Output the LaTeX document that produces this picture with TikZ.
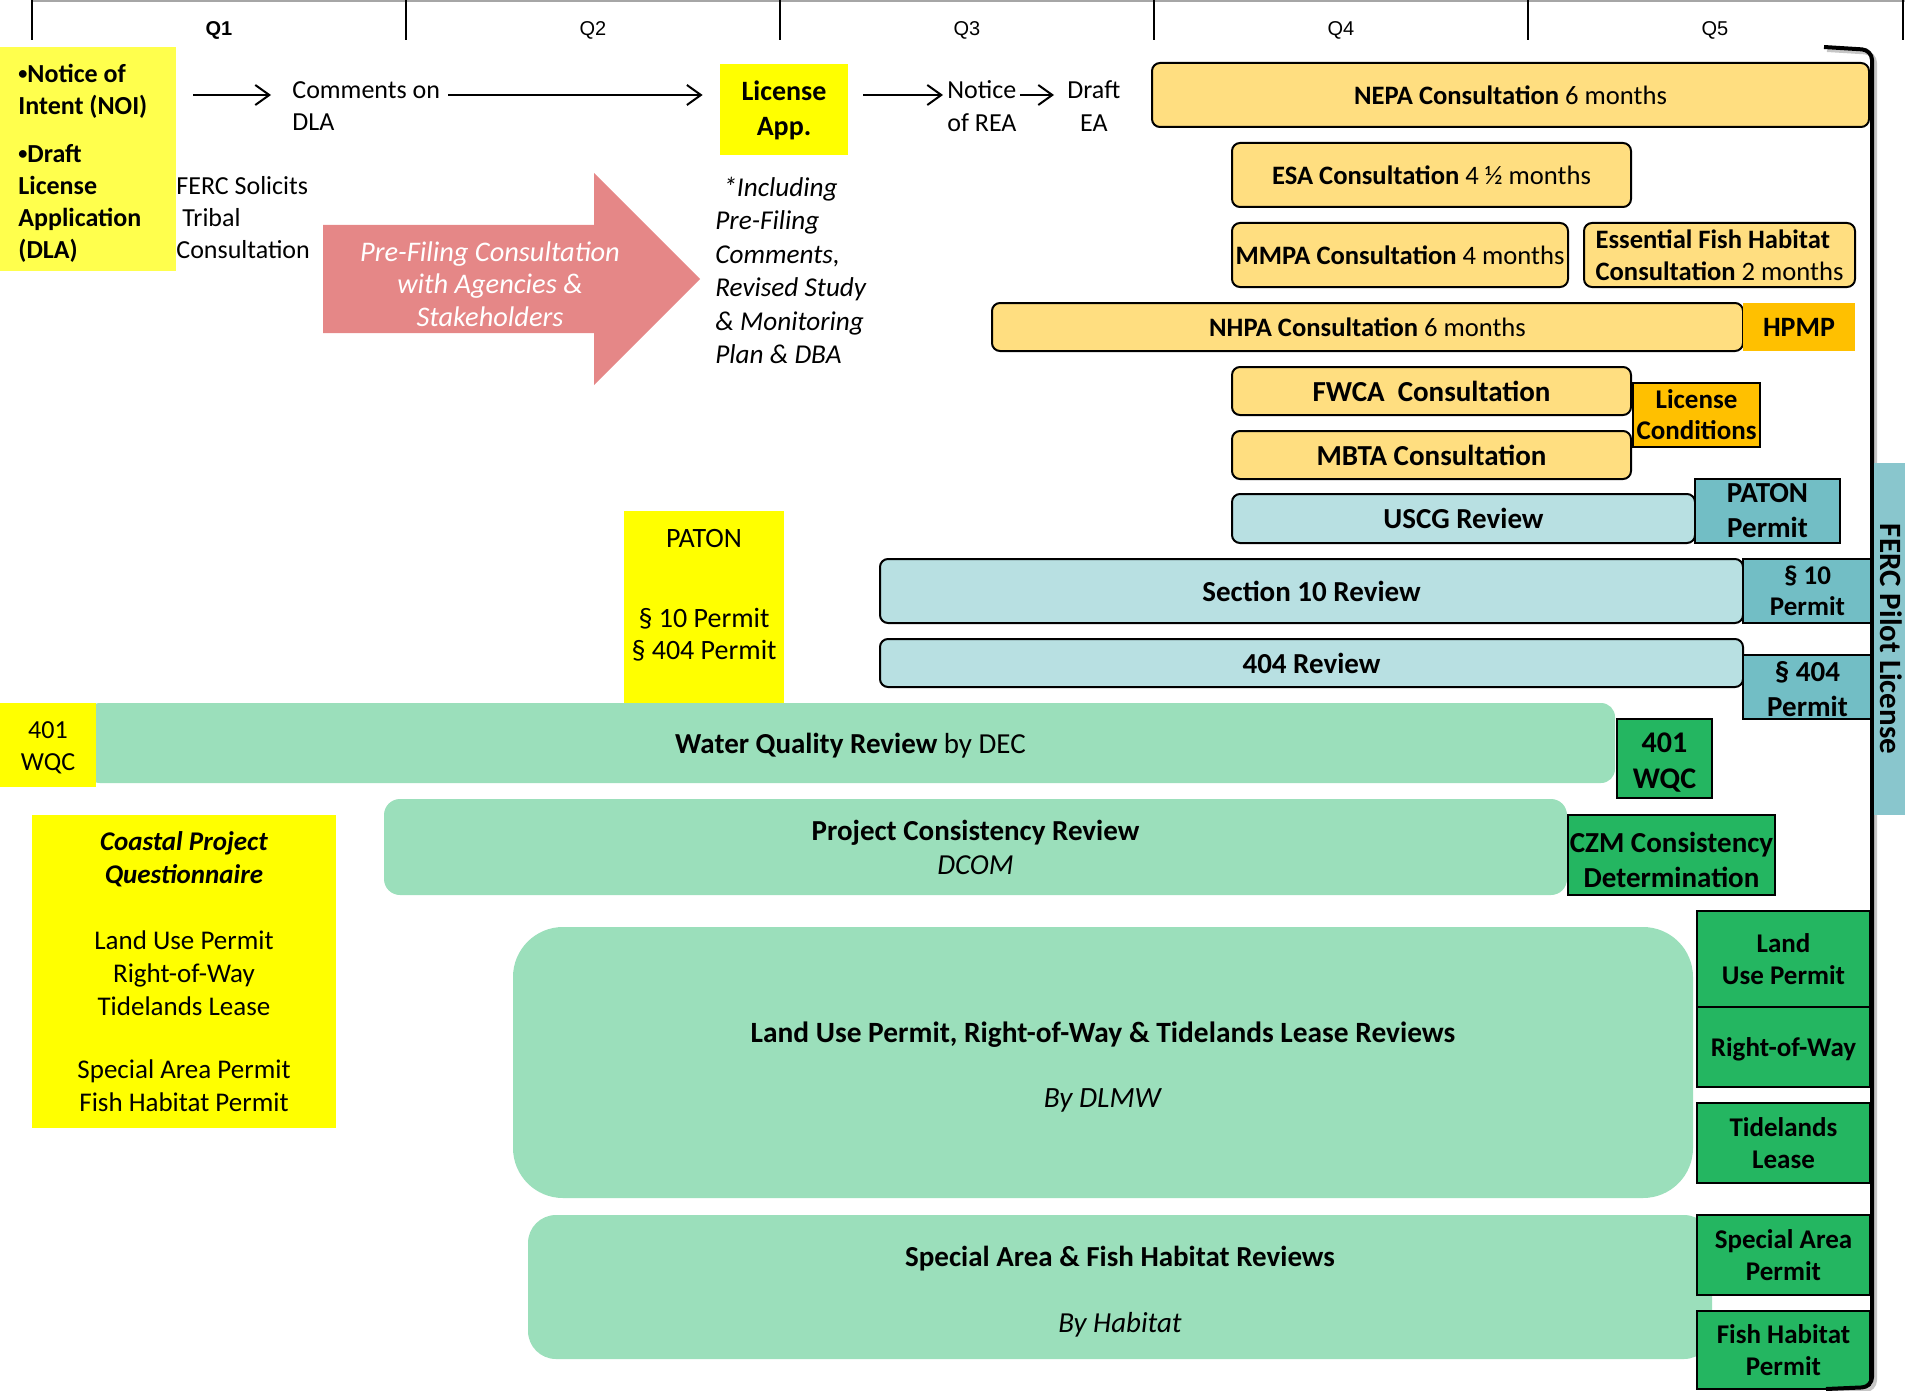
\documentclass[tikz,border=0pt]{standalone}
\usepackage{fontspec}
\setmainfont{Carlito}
\newfontfamily\arialfont{Liberation Sans}
\usepackage{graphicx}
\usepackage{tikz}
\usetikzlibrary{arrows.meta}

\definecolor{noiyellow}{RGB}{255,255,77}
\definecolor{appyellow}{RGB}{255,255,0}
\definecolor{consfill}{RGB}{255,222,128}
\definecolor{hpmporange}{RGB}{255,192,0}
\definecolor{reviewblue}{RGB}{184,224,226}
\definecolor{permitteal}{RGB}{114,190,197}
\definecolor{fercteal}{RGB}{137,198,205}
\definecolor{reviewgreen}{RGB}{155,223,187}
\definecolor{permitgreen}{RGB}{36,182,97}
\definecolor{prefilepink}{RGB}{229,135,135}

\newcommand{\smallbullet}{\raisebox{0.09em}{\scalebox{0.7}{•}}}

\tikzset{
  txt/.style={inner sep=0pt, font=\fontsize{13}{16}\selectfont},
  qlab/.style={inner sep=0pt, font=\arialfont\fontsize{10}{12}\selectfont},
  arr/.style={line width=1pt, -{Straight Barb[length=7pt,width=10pt]}},
  cons/.style={draw, line width=1pt, rounded corners=4pt, fill=consfill, inner sep=0pt,
    align=center, font=\fontsize{13.3}{16}\selectfont},
  review/.style={draw, line width=1pt, rounded corners=4pt, fill=reviewblue, inner sep=0pt,
    align=center, font=\bfseries\fontsize{14.5}{17}\selectfont},
  tealpermit/.style={draw, line width=1pt, fill=permitteal, inner sep=0pt,
    align=center, font=\bfseries\fontsize{14.5}{17.5}\selectfont},
  greenpermit/.style={draw, line width=1pt, fill=permitgreen, inner sep=0pt,
    align=center, font=\bfseries\fontsize{13.5}{16}\selectfont},
  orangebox/.style={fill=hpmporange, inner sep=0pt, align=center,
    font=\bfseries\fontsize{13.5}{15.5}\selectfont},
  greenbar/.style={fill=reviewgreen, inner sep=0pt, align=center,
    font=\fontsize{14.5}{16.5}\selectfont},
}

\begin{document}
\begin{tikzpicture}[x=0.5pt, y=-0.5pt]
\useasboundingbox (0,0) rectangle (1905,1391);

% time line
\draw[gray!70, line width=0.8pt] (32,1) -- (1905,1);
\draw[line width=1.3pt] (32,0) -- (32,40);
\foreach \x in {406,780,1154,1528,1903}
  \draw[line width=0.6pt] (\x,0) -- (\x,40);
\node[qlab] (q1) at (219,30) {\textbf{Q1}};
\foreach \i/\x in {2/593,3/967,4/1341,5/1715}
  \node[qlab] (q\i) at (\x,30) {Q\i};

% pre-filing
\node[fill=noiyellow, minimum width=88pt, minimum height=112pt] (noi) at (88,159) {};
\node[txt, anchor=west, align=left, font=\bfseries\fontsize{13}{16}\selectfont] (noitxt) at (18,163)
  {\smallbullet Notice of\\Intent (NOI)\\[8pt]\smallbullet Draft\\License\\Application\\(DLA)};
\node[txt, anchor=west, align=left] (cmt) at (292,106) {Comments on\\DLA};
\node[fill=appyellow, minimum width=64pt, minimum height=45.5pt, inner sep=0pt, align=center,
  font=\bfseries\fontsize{14}{17.5}\selectfont] (app) at (784,110) {License\\App.};
\node[txt, anchor=west, align=left, font=\fontsize{13}{16.5}\selectfont] (rea) at (947,106.5) {Notice\\of REA};
\node[txt, anchor=west, align=center, font=\fontsize{13}{16.5}\selectfont] (draft) at (1067,106.5) {Draft\\EA};
\node[txt, anchor=west, align=left] (tribal) at (176,218) {FERC Solicits\\\hspace{3pt}Tribal\\Consultation};

\coordinate (arrowline) at (0,95);
\draw[arr] ([xshift=8.5pt]noi.east |- arrowline) -- ([xshift=-10.5pt]cmt.west |- arrowline);
\draw[arr] ([xshift=4pt]cmt.east |- arrowline) -- ([xshift=-8.5pt]app.west |- arrowline);
\draw[arr] ([xshift=7.5pt]app.east |- arrowline) -- ([xshift=-2pt]rea.west |- arrowline);
\draw[arr] ([xshift=1.5pt]rea.east |- arrowline) -- ([xshift=-6.5pt]draft.west |- arrowline);

\fill[prefilepink] (323,225) -- (594,225) -- (594,173) -- (700,279) -- (594,385) -- (594,333) -- (323,333) -- cycle;
\node[txt, text=white, align=center, font=\itshape\fontsize{14.2}{16.2}\selectfont] (prefile) at (490,284)
  {Pre-Filing Consultation\\with Agencies \&\\Stakeholders};
\node[txt, anchor=west, align=left, font=\itshape\fontsize{13.6}{16.7}\selectfont] (incl) at (715,270.5)
  {\hspace{4pt}*Including\\Pre-Filing\\Comments,\\Revised Study\\\& Monitoring\\Plan \& DBA};

% consultations
\node[cons, minimum width=358.5pt, minimum height=32pt] (nepa) at (1510.5,95) {\textbf{NEPA Consultation} 6 months};
\node[cons, minimum width=199.5pt, minimum height=32pt] (esa) at (1431.5,175) {\textbf{ESA Consultation} 4 ½ months};
\node[cons, minimum width=168pt, minimum height=32pt] (mmpa) at (1400,255) {\textbf{MMPA Consultation} 4 months};
\node[cons, minimum width=135.5pt, minimum height=32pt, align=left] (efh) at (1719.5,255)
  {\textbf{Essential Fish Habitat}\\\textbf{Consultation} 2 months};
\node[cons, minimum width=375.5pt, minimum height=24pt] (nhpa) at (1367.5,327) {\textbf{NHPA Consultation} 6 months};
\node[orangebox, minimum width=56pt, minimum height=24pt, font=\bfseries\fontsize{14}{16}\selectfont] (hpmp) at (1799,327) {HPMP};
\node[cons, minimum width=199.5pt, minimum height=24pt, font=\bfseries\fontsize{14.5}{17}\selectfont] (fwca) at (1431.5,391) {FWCA\ \ Consultation};
\node[cons, minimum width=199.5pt, minimum height=24pt, font=\bfseries\fontsize{14.5}{17}\selectfont] (mbta) at (1431.5,455) {MBTA Consultation};
\node[orangebox, draw, line width=0.8pt, minimum width=63.5pt, minimum height=32pt] (lcond) at (1696.5,415) {License\\Conditions};

% reviews
\node[review, minimum width=231.5pt, minimum height=24.5pt] (uscg) at (1463.5,518.5) {USCG Review};
\node[tealpermit, minimum width=72.5pt, minimum height=32pt] (patonp) at (1767.5,511) {PATON\\Permit};
\node[review, minimum width=431.5pt, minimum height=32pt] (sec10) at (1311.5,591) {Section 10 Review};
\node[tealpermit, minimum width=64.5pt, minimum height=32pt, font=\bfseries\fontsize{13.5}{15.5}\selectfont] (sec10p) at (1807.5,591) {§ 10\\Permit};
\node[review, minimum width=431.5pt, minimum height=24pt] (r404) at (1311.5,663) {404 Review};
\node[tealpermit, minimum width=64.5pt, minimum height=32pt] (r404p) at (1807.5,687) {};
\node[txt, align=center, font=\bfseries\fontsize{14.5}{17.5}\selectfont] (r404ptxt) at (1807.5,689) {§ 404\\Permit};

\node[fill=appyellow, minimum width=80pt, minimum height=96pt] (patonbox) at (704,607) {};
\node[txt, align=center, font=\fontsize{14}{16}\selectfont] (patontxt) at (704,595)
  {PATON\\[24pt]§ 10 Permit\\§ 404 Permit};

% state reviews
\node[greenbar, rounded corners=7pt, minimum width=764.5pt, minimum height=40pt, text depth=0pt] (wqr) at (850.5,743)
  {\textbf{Water Quality Review} by DEC};
\node[fill=appyellow, minimum width=48pt, minimum height=42pt] (wqcy) at (48,745) {};
\node[txt, align=center] (wqcytxt) at (48,748) {401\\WQC};
\node[greenpermit, minimum width=47.5pt, minimum height=39.5pt] (wqcg) at (1664.5,758.5) {};
\node[txt, align=center, font=\bfseries\fontsize{15}{18}\selectfont] (wqcgtxt) at (1664.5,762.5) {401\\WQC};

\node[greenbar, rounded corners=8pt, minimum width=591.5pt, minimum height=48pt, font=\fontsize{14.5}{17}\selectfont] (pcr) at (975.5,847)
  {\textbf{Project Consistency Review}\\\textit{DCOM}};
\node[greenpermit, minimum width=103.5pt, minimum height=40pt] (czm) at (1671.5,855) {};
\node[txt, align=center, font=\bfseries\fontsize{14.5}{17.5}\selectfont] (czmtxt) at (1671.5,860) {CZM Consistency\\Determination};

\node[fill=appyellow, minimum width=152pt, minimum height=156.5pt, inner sep=0pt, align=center,
  font=\fontsize{13.5}{16.5}\selectfont] (cpq) at (184,971.5)
  {\textbf{\textit{Coastal Project}}\\\textbf{\textit{Questionnaire}}\\[16.5pt]Land Use Permit\\Right-of-Way\\Tidelands Lease\\[15pt]Special Area Permit\\Fish Habitat Permit};

\node[greenbar, rounded corners=25pt, minimum width=590pt, minimum height=135.5pt] (lur) at (1103,1062.5) {};
\node[txt, align=center, font=\fontsize{14.7}{16.5}\selectfont] (lurtxt) at (1103,1067)
  {\textbf{Land Use Permit, Right-of-Way \& Tidelands Lease Reviews}\\[16pt]\textit{By DLMW}};
\node[greenbar, rounded corners=14pt, minimum width=592pt, minimum height=72pt] (sfr) at (1120,1287) {};
\node[txt, align=center, font=\fontsize{14.5}{16.5}\selectfont] (sfrtxt) at (1120,1292)
  {\textbf{Special Area \& Fish Habitat Reviews}\\[16.5pt]\textit{By Habitat}};

\node[greenpermit, minimum width=86.5pt, minimum height=48pt] (lup) at (1783.5,959) {Land\\Use Permit};
\node[greenpermit, minimum width=86.5pt, minimum height=40pt, text depth=0pt] (rowp) at (1783.5,1047) {Right-of-Way};
\node[greenpermit, minimum width=86.5pt, minimum height=40pt] (tdl) at (1783.5,1143) {Tidelands\\Lease};
\node[greenpermit, minimum width=86.5pt, minimum height=40pt] (sap) at (1783.5,1255) {Special Area\\Permit};
\node[greenpermit, minimum width=86.5pt, minimum height=39pt] (fhp) at (1783.5,1350) {Fish Habitat\\Permit};

% license bracket
\draw[gray!45, line width=2pt, rounded corners=5pt, shift={(3,3)}] (1824,47) -- (1872,50) -- (1872,1387) -- (1826,1389);
\draw[line width=2pt, rounded corners=5pt] (1824,47) -- (1872,50) -- (1872,1387) -- (1826,1389);
\node[fill=fercteal, rotate=-90, minimum width=176pt, minimum height=17pt, inner sep=0pt,
  font=\bfseries\fontsize{15.5}{16}\selectfont] (ferc) at (1891,639) {FERC Pilot License};
\end{tikzpicture}
\end{document}
